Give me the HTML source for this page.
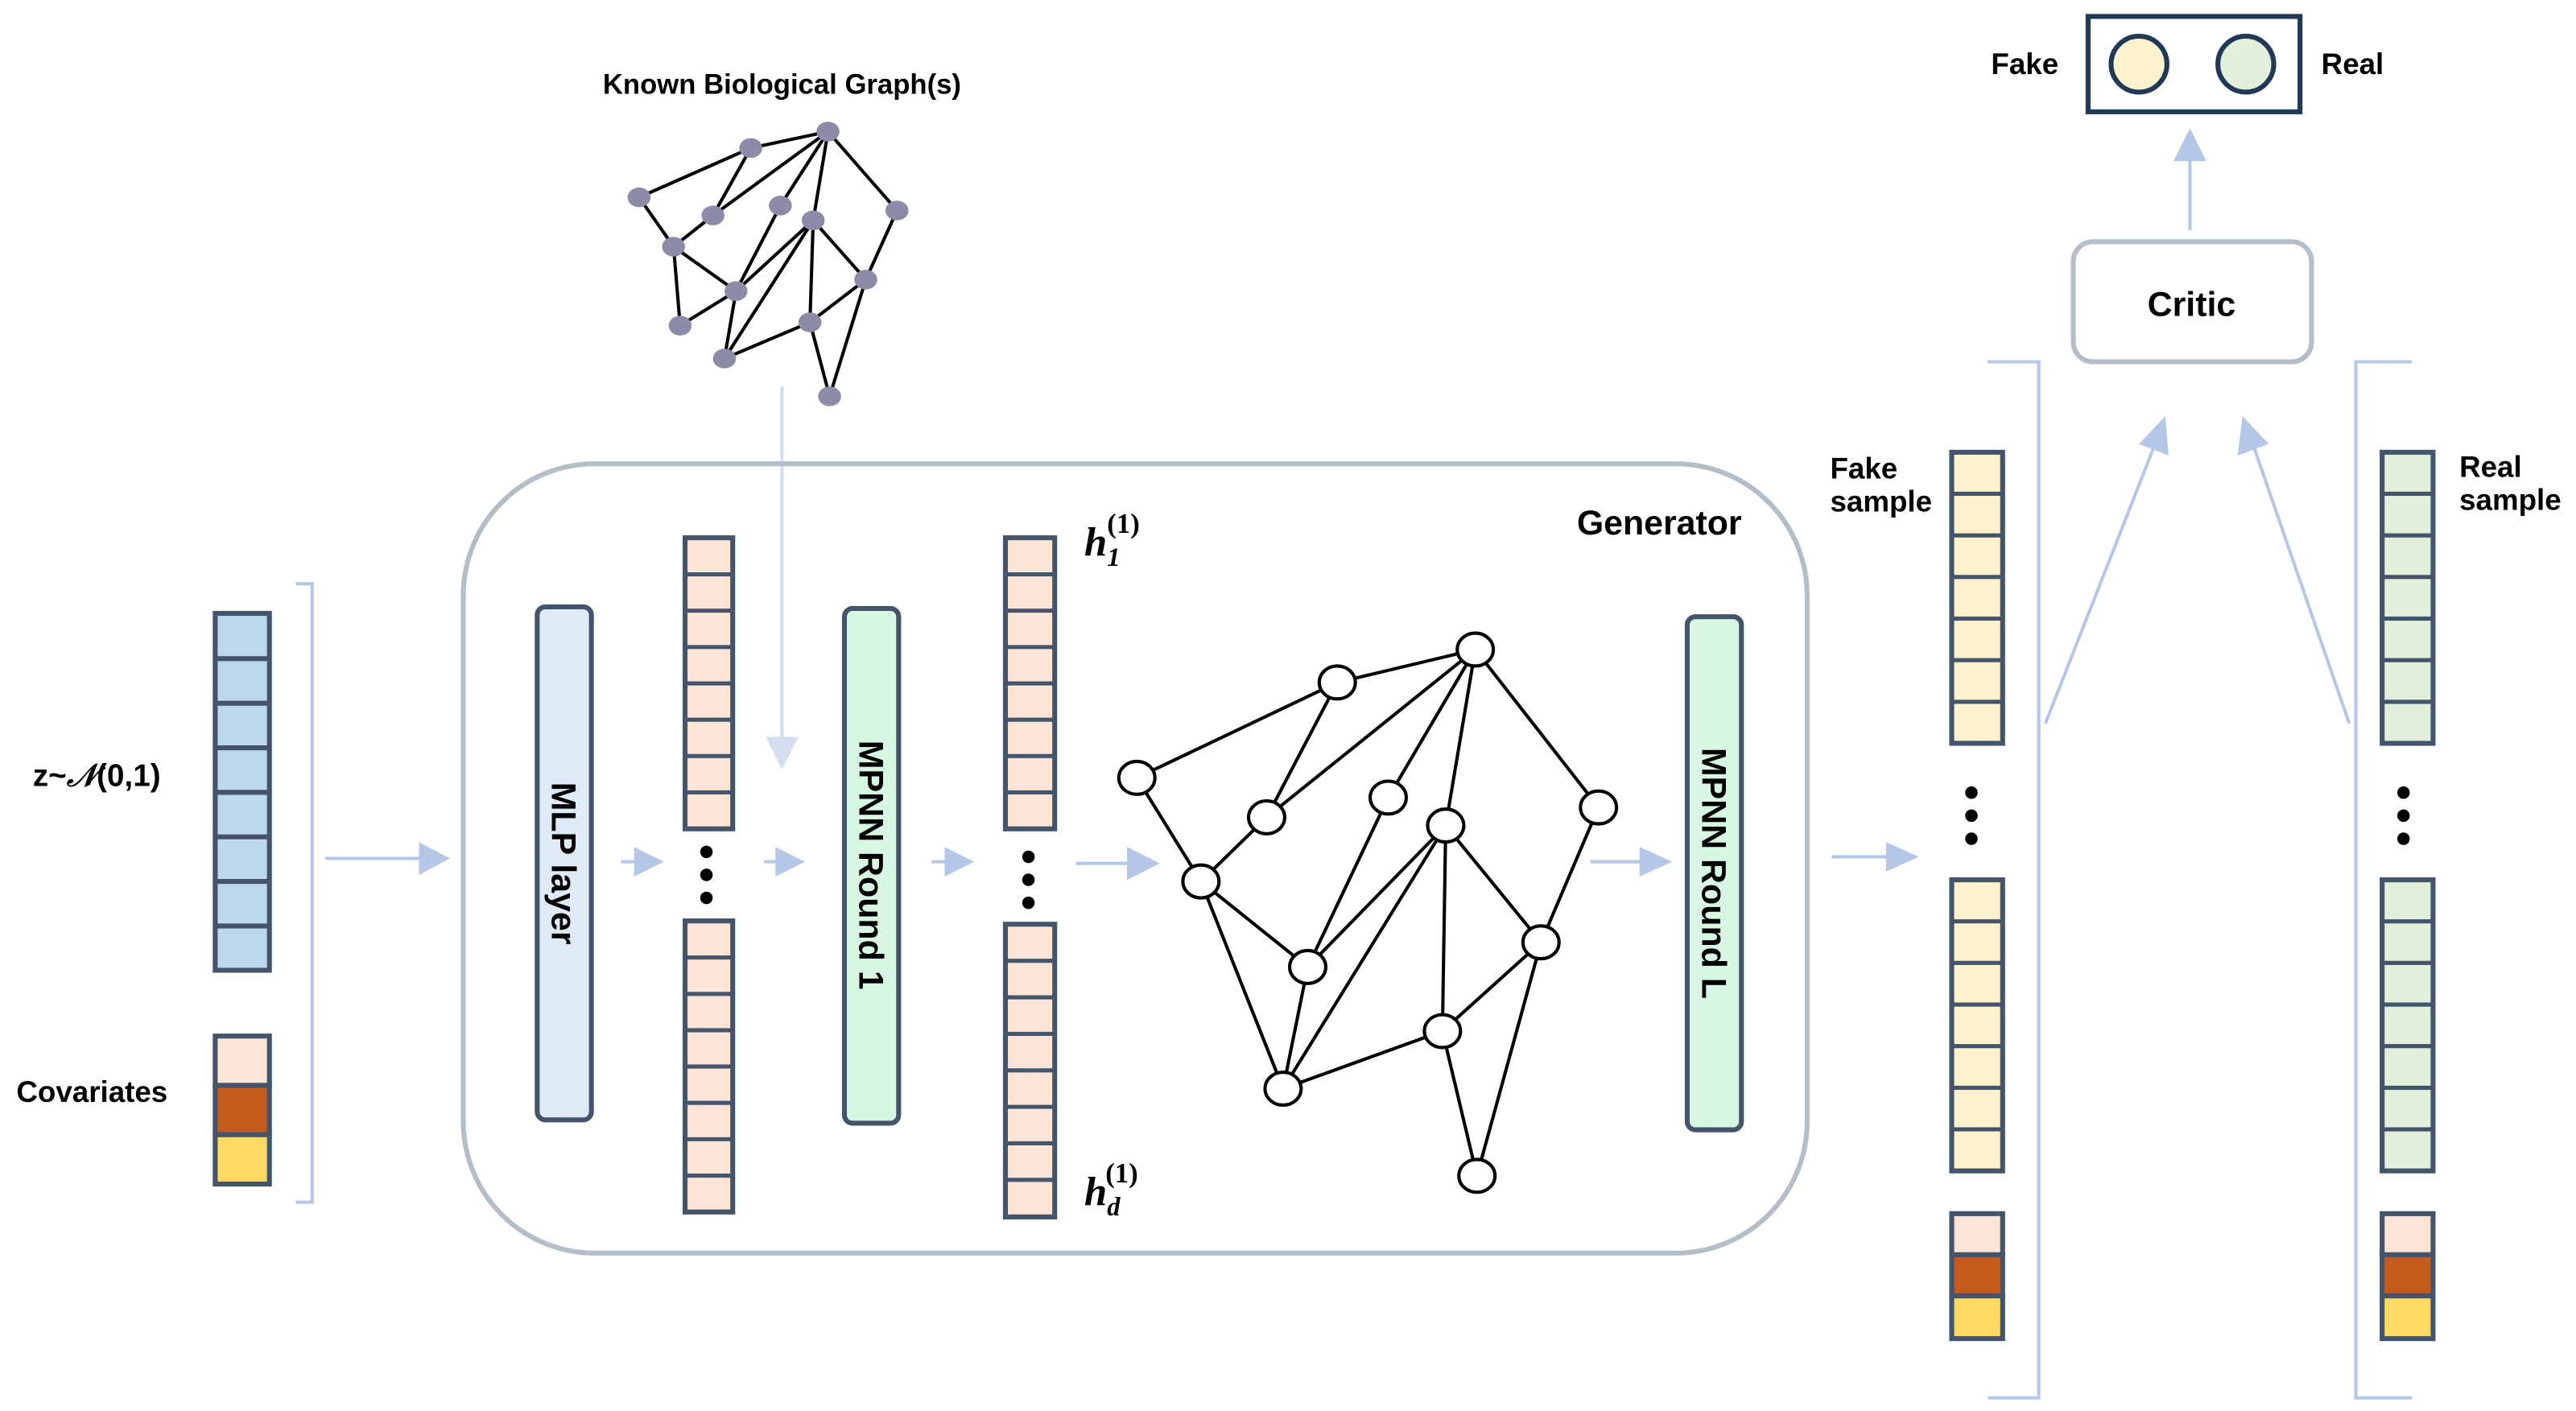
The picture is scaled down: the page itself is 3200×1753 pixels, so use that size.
<!DOCTYPE html>
<html><head><meta charset="utf-8"><style>html,body{margin:0;padding:0;background:#fff}svg{display:block}</style></head>
<body>
<svg width="3200" height="1753" viewBox="0 0 1568 858" preserveAspectRatio="none" xmlns="http://www.w3.org/2000/svg" font-family="Liberation Sans, sans-serif">
<g stroke="#b4c7e7" stroke-width="2" fill="none">
<polyline points="180,355 190,355 190,731 180,731"/>
<polyline points="1210,220 1241,220 1241,850 1210,850"/>
<polyline points="1468,220 1434,220 1434,850 1468,850"/>
</g>
<g fill="#b4c7e7">
<path d="M198,522 H255" stroke="#b4c7e7" stroke-width="2"/><path d="M255,512 L274,522 L255,532z"/>
<path d="M378,524 H388" stroke="#b4c7e7" stroke-width="2"/><path d="M386,515 L404,524 L386,533z"/>
<path d="M465,524 H474" stroke="#b4c7e7" stroke-width="2"/><path d="M472,515 L490,524 L472,533z"/>
<path d="M567,524 H577" stroke="#b4c7e7" stroke-width="2"/><path d="M575,515 L593,524 L575,533z"/>
<path d="M655,525 H688" stroke="#b4c7e7" stroke-width="2"/><path d="M686,515 L706,525 L686,535z"/>
<path d="M968,524 H1000" stroke="#b4c7e7" stroke-width="2"/><path d="M998,515 L1018,524 L998,533z"/>
<path d="M1115,521 H1150" stroke="#b4c7e7" stroke-width="2"/><path d="M1148,512 L1168,521 L1148,530z"/>
<path d="M476,235 V450" stroke="#d3def0" stroke-width="2"/><path d="M466,448 L476,468 L486,448z" fill="#d3def0"/>
<path d="M1333,140 V96" stroke="#b4c7e7" stroke-width="2"/><path d="M1323,98 L1333,78 L1343,98z"/>
<path d="M1245,440 L1311,272" stroke="#b4c7e7" stroke-width="2"/><path d="M1302,270 L1318,253 L1320,277z"/>
<path d="M1430,440 L1372,272" stroke="#b4c7e7" stroke-width="2"/><path d="M1362,277 L1365,253 L1381,270z"/>
</g>
<rect x="282" y="282" width="818" height="480" rx="80" fill="none" stroke="#b4bec8" stroke-width="3"/>
<text x="1010" y="325" font-size="21" font-weight="bold" text-anchor="middle">Generator</text>
<rect x="327" y="369" width="33" height="312" rx="5" fill="#deebf7" stroke="#44546a" stroke-width="3"/>
<text transform="translate(336,525) rotate(90)" font-size="21" font-weight="bold" text-anchor="middle">MLP  layer</text>
<rect x="514" y="370" width="33" height="313" rx="5" fill="#d7f7e2" stroke="#44546a" stroke-width="3"/>
<text transform="translate(523,526) rotate(90)" font-size="21" font-weight="bold" text-anchor="middle">MPNN Round 1</text>
<rect x="1027" y="375" width="33" height="312" rx="5" fill="#d7f7e2" stroke="#44546a" stroke-width="3"/>
<text transform="translate(1036,531) rotate(90)" font-size="21" font-weight="bold" text-anchor="middle">MPNN Round L</text>
<g stroke="#44546a">
<rect x="131" y="373" width="33" height="217" fill="#bdd7ee" stroke-width="3"/>
<line x1="147.5" x2="147.5" y1="399" y2="590" stroke-width="31" stroke-dasharray="3 24.1"/>
<rect x="131" y="630" width="33" height="30" fill="#fce4d6" stroke-width="3"/>
<rect x="131" y="660" width="33" height="30" fill="#c55a1d" stroke-width="3"/>
<rect x="131" y="690" width="33" height="30" fill="#fed966" stroke-width="3"/>
<rect x="417" y="327" width="29" height="177" fill="#fce4d6" stroke-width="3"/>
<line x1="431.5" x2="431.5" y1="348" y2="500" stroke-width="27" stroke-dasharray="2.5 19.6"/>
<rect x="417" y="560" width="29" height="177" fill="#fce4d6" stroke-width="3"/>
<line x1="431.5" x2="431.5" y1="581" y2="733" stroke-width="27" stroke-dasharray="2.5 19.6"/>
<rect x="612" y="327" width="30" height="177" fill="#fce4d6" stroke-width="3"/>
<line x1="627" x2="627" y1="348" y2="500" stroke-width="28" stroke-dasharray="2.5 19.6"/>
<rect x="612" y="562" width="30" height="178" fill="#fce4d6" stroke-width="3"/>
<line x1="627" x2="627" y1="583" y2="735" stroke-width="28" stroke-dasharray="2.5 19.7"/>
<rect x="1188" y="275" width="31" height="177" fill="#fff2cc" stroke-width="3"/>
<line x1="1203.5" x2="1203.5" y1="299" y2="450" stroke-width="29" stroke-dasharray="2.5 22.8"/>
<rect x="1188" y="535" width="31" height="177" fill="#fff2cc" stroke-width="3"/>
<line x1="1203.5" x2="1203.5" y1="559" y2="710" stroke-width="29" stroke-dasharray="2.5 22.8"/>
<rect x="1188" y="738" width="31" height="25" fill="#fce4d6" stroke-width="3"/>
<rect x="1188" y="763" width="31" height="25" fill="#c55a1d" stroke-width="3"/>
<rect x="1188" y="788" width="31" height="26" fill="#fed966" stroke-width="3"/>
<rect x="1450" y="275" width="31" height="177" fill="#e2efda" stroke-width="3"/>
<line x1="1465.5" x2="1465.5" y1="299" y2="450" stroke-width="29" stroke-dasharray="2.5 22.8"/>
<rect x="1450" y="535" width="31" height="177" fill="#e2efda" stroke-width="3"/>
<line x1="1465.5" x2="1465.5" y1="559" y2="710" stroke-width="29" stroke-dasharray="2.5 22.8"/>
<rect x="1450" y="738" width="31" height="25" fill="#fce4d6" stroke-width="3"/>
<rect x="1450" y="763" width="31" height="25" fill="#c55a1d" stroke-width="3"/>
<rect x="1450" y="788" width="31" height="26" fill="#fed966" stroke-width="3"/>
</g>
<g fill="#000">
<circle cx="430" cy="518" r="3.8"/><circle cx="430" cy="532" r="3.8"/><circle cx="430" cy="546" r="3.8"/>
<circle cx="626" cy="521" r="3.8"/><circle cx="626" cy="535" r="3.8"/><circle cx="626" cy="549" r="3.8"/>
<circle cx="1200" cy="482" r="3.8"/><circle cx="1200" cy="496" r="3.8"/><circle cx="1200" cy="510" r="3.8"/>
<circle cx="1463" cy="482" r="3.8"/><circle cx="1463" cy="496" r="3.8"/><circle cx="1463" cy="510" r="3.8"/>
</g>
<text x="20" y="478" font-size="19" font-weight="bold">z~<tspan font-family="Liberation Serif, serif" font-style="italic">𝒩</tspan>(0,1)</text>
<text x="10" y="670" font-size="18" font-weight="bold">Covariates</text>
<text font-family="Liberation Serif, serif" font-weight="bold" font-size="25" font-style="italic" x="660" y="338">h<tspan font-size="16" dy="6">1</tspan><tspan font-size="17" font-style="normal" dx="-8" dy="-20">(1)</tspan></text>
<text font-family="Liberation Serif, serif" font-weight="bold" font-size="25" font-style="italic" x="660" y="733">h<tspan font-size="16" dy="6">d</tspan><tspan font-size="17" font-style="normal" dx="-9" dy="-20">(1)</tspan></text>
<g stroke="#000" stroke-width="2">
<line x1="692" y1="473" x2="814" y2="415"/><line x1="692" y1="473" x2="731" y2="536"/>
<line x1="814" y1="415" x2="898" y2="395"/><line x1="814" y1="415" x2="771" y2="497"/>
<line x1="771" y1="497" x2="898" y2="395"/><line x1="845" y1="485" x2="898" y2="395"/>
<line x1="880" y1="502" x2="898" y2="395"/><line x1="973" y1="491" x2="898" y2="395"/>
<line x1="731" y1="536" x2="771" y2="497"/><line x1="731" y1="536" x2="796" y2="588"/>
<line x1="731" y1="536" x2="781" y2="662"/><line x1="796" y1="588" x2="845" y2="485"/>
<line x1="796" y1="588" x2="880" y2="502"/><line x1="796" y1="588" x2="781" y2="662"/>
<line x1="781" y1="662" x2="880" y2="502"/><line x1="781" y1="662" x2="878" y2="627"/>
<line x1="880" y1="502" x2="878" y2="627"/><line x1="880" y1="502" x2="938" y2="573"/>
<line x1="973" y1="491" x2="938" y2="573"/><line x1="938" y1="573" x2="878" y2="627"/>
<line x1="938" y1="573" x2="899" y2="715"/><line x1="878" y1="627" x2="899" y2="715"/>
</g>
<g fill="#fff" stroke="#000" stroke-width="2">
<ellipse cx="692" cy="473" rx="11" ry="10"/><ellipse cx="814" cy="415" rx="11" ry="10"/>
<ellipse cx="898" cy="395" rx="11" ry="10"/><ellipse cx="771" cy="497" rx="11" ry="10"/>
<ellipse cx="845" cy="485" rx="11" ry="10"/><ellipse cx="880" cy="502" rx="11" ry="10"/>
<ellipse cx="973" cy="491" rx="11" ry="10"/><ellipse cx="731" cy="536" rx="11" ry="10"/>
<ellipse cx="796" cy="588" rx="11" ry="10"/><ellipse cx="938" cy="573" rx="11" ry="10"/>
<ellipse cx="878" cy="627" rx="11" ry="10"/><ellipse cx="781" cy="662" rx="11" ry="10"/>
<ellipse cx="899" cy="715" rx="11" ry="10"/>
</g>
<text x="476" y="57" font-size="17" font-weight="bold" text-anchor="middle">Known Biological Graph(s)</text>
<g stroke="#000" stroke-width="2">
<line x1="504" y1="80" x2="457" y2="90"/><line x1="389" y1="120" x2="457" y2="90"/>
<line x1="457" y1="90" x2="434" y2="131"/><line x1="434" y1="131" x2="504" y2="80"/>
<line x1="475" y1="125" x2="504" y2="80"/><line x1="495" y1="134" x2="504" y2="80"/>
<line x1="546" y1="128" x2="504" y2="80"/><line x1="389" y1="120" x2="410" y2="150"/>
<line x1="410" y1="150" x2="434" y2="131"/><line x1="410" y1="150" x2="448" y2="177"/>
<line x1="410" y1="150" x2="414" y2="198"/><line x1="414" y1="198" x2="448" y2="177"/>
<line x1="448" y1="177" x2="475" y2="125"/><line x1="448" y1="177" x2="495" y2="134"/>
<line x1="448" y1="177" x2="441" y2="218"/><line x1="441" y1="218" x2="495" y2="134"/>
<line x1="441" y1="218" x2="493" y2="196"/><line x1="495" y1="134" x2="493" y2="196"/>
<line x1="495" y1="134" x2="527" y2="170"/><line x1="546" y1="128" x2="527" y2="170"/>
<line x1="527" y1="170" x2="493" y2="196"/><line x1="527" y1="170" x2="505" y2="241"/>
<line x1="493" y1="196" x2="505" y2="241"/>
</g>
<g fill="#8c8ca8">
<ellipse cx="504" cy="80" rx="7" ry="6"/><ellipse cx="457" cy="90" rx="7" ry="6"/>
<ellipse cx="389" cy="120" rx="7" ry="6"/><ellipse cx="434" cy="131" rx="7" ry="6"/>
<ellipse cx="475" cy="125" rx="7" ry="6"/><ellipse cx="495" cy="134" rx="7" ry="6"/>
<ellipse cx="546" cy="128" rx="7" ry="6"/><ellipse cx="410" cy="150" rx="7" ry="6"/>
<ellipse cx="448" cy="177" rx="7" ry="6"/><ellipse cx="527" cy="170" rx="7" ry="6"/>
<ellipse cx="493" cy="196" rx="7" ry="6"/><ellipse cx="441" cy="218" rx="7" ry="6"/>
<ellipse cx="505" cy="241" rx="7" ry="6"/><ellipse cx="414" cy="198" rx="7" ry="6"/>
</g>
<rect x="1262" y="147" width="145" height="73" rx="12" fill="#fff" stroke="#b4bec8" stroke-width="3"/>
<text x="1334" y="192" font-size="21" font-weight="bold" text-anchor="middle">Critic</text>
<rect x="1271" y="10" width="129" height="58" fill="#fff" stroke="#203a55" stroke-width="3"/>
<circle cx="1302" cy="39" r="17" fill="#fff2cc" stroke="#203a55" stroke-width="3"/>
<circle cx="1367" cy="39" r="17" fill="#e2efda" stroke="#203a55" stroke-width="3"/>
<text x="1253" y="45" font-size="18" font-weight="bold" text-anchor="end">Fake</text>
<text x="1413" y="45" font-size="18" font-weight="bold">Real</text>
<text x="1114" y="291" font-size="18" font-weight="bold">Fake</text>
<text x="1114" y="311" font-size="18" font-weight="bold">sample</text>
<text x="1497" y="290" font-size="18" font-weight="bold">Real</text>
<text x="1497" y="310" font-size="18" font-weight="bold">sample</text>
</svg>
</body></html>
